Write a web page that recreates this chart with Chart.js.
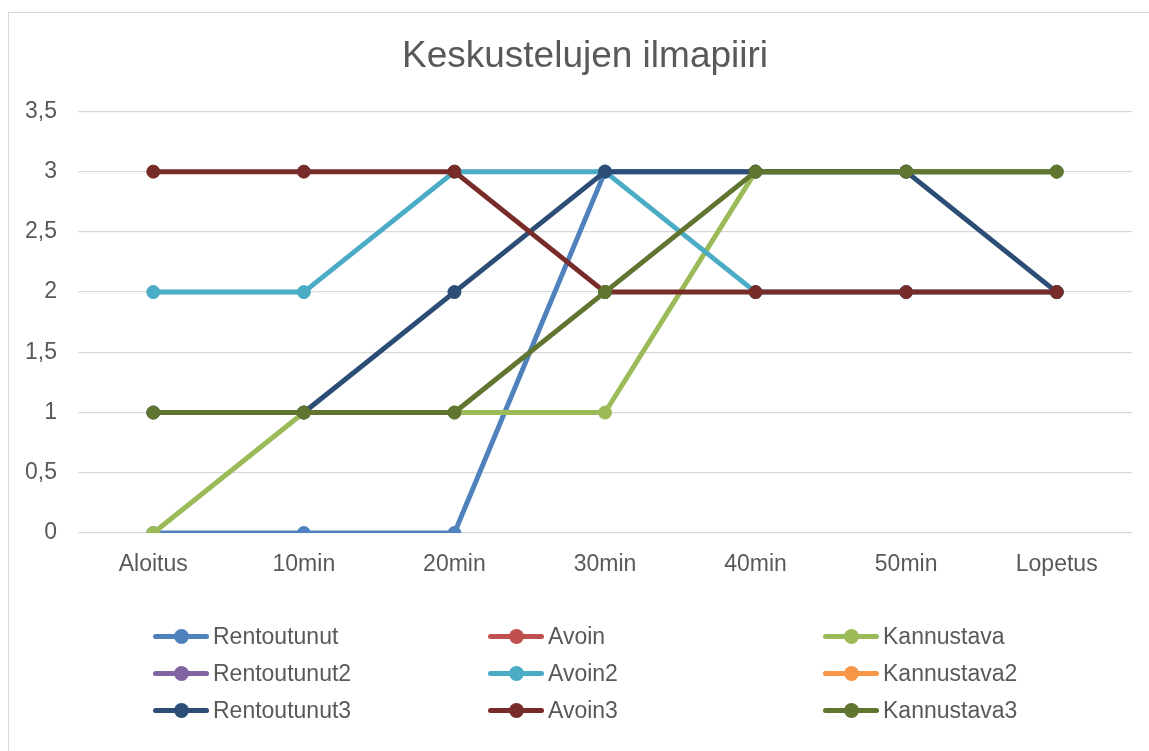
<!DOCTYPE html>
<html>
<head>
<meta charset="utf-8">
<script src="https://cdn.jsdelivr.net/npm/chart.js"></script>
<style>
  body { margin: 0; background: #fff; }
  #wrap { position: relative; width: 1149px; height: 751px; overflow: hidden; }
  #frame { position: absolute; left: 8px; top: 12px; width: 1170px; height: 770px; border: 1.5px solid #d9d9d9; box-sizing: border-box; }
  #miGrafico { position: absolute; left: 0; top: 0; }
  .item { position: absolute; height: 28px; display: flex; align-items: center; font: 23px "Liberation Sans", Arial, sans-serif; color: #595959; white-space: nowrap; }
  .mark { position: relative; width: 56px; height: 5px; border-radius: 3px; margin-right: 4px; }
  .mark::after { content: ''; position: absolute; left: 21px; top: -5px; width: 15px; height: 15px; border-radius: 50%; background: inherit; }
</style>
</head>
<body>
<div id="wrap">
  <div id="frame"></div>
  <canvas id="miGrafico" width="1149" height="751"></canvas>
  <div id="legend"></div>
</div>
<script>
const labels = ['Aloitus', '10min', '20min', '30min', '40min', '50min', 'Lopetus'];

const rentoutunut = [0, 0, 0, 3, 3, 3, 3];
const avoin = [];
const kannustava = [0, 1, 1, 1, 3, 3, 3];
const rentoutunut2 = [];
const avoin2 = [2, 2, 3, 3, 2, 2, 2];
const kannustava2 = [];
const rentoutunut3 = [1, 1, 2, 3, 3, 3, 2];
const avoin3 = [3, 3, 3, 2, 2, 2, 2];
const kannustava3 = [1, 1, 1, 2, 3, 3, 3];

const series = [
  { label: 'Rentoutunut', data: rentoutunut, color: '#4F81BD' },
  { label: 'Avoin', data: avoin, color: '#C0504D' },
  { label: 'Kannustava', data: kannustava, color: '#9BBB59' },
  { label: 'Rentoutunut2', data: rentoutunut2, color: '#8064A2' },
  { label: 'Avoin2', data: avoin2, color: '#4BACC6' },
  { label: 'Kannustava2', data: kannustava2, color: '#F79646' },
  { label: 'Rentoutunut3', data: rentoutunut3, color: '#2C4D75' },
  { label: 'Avoin3', data: avoin3, color: '#772C2A' },
  { label: 'Kannustava3', data: kannustava3, color: '#5F7530' },
];

const font = '"Liberation Sans", Arial, sans-serif';

const data = {
  labels,
  datasets: series.map((s, i) => ({
    label: s.label,
    data: s.data,
    borderColor: s.color,
    backgroundColor: s.color,
    pointBackgroundColor: s.color,
    pointBorderColor: s.color,
    borderWidth: 5,
    pointRadius: 6.5,
    pointBorderWidth: 1,
    borderJoinStyle: 'round',
    borderCapStyle: 'round',
    order: series.length - i,
  })),
};

// the title is centred on the frame, not on the plot
const shiftTitle = {
  id: 'shiftTitle',
  afterLayout(chart) {
    chart.titleBlock.left += 38;
  },
};

const options = {
  responsive: false,
  animation: false,
  layout: { padding: { left: 0, right: 17, top: 0, bottom: 0 } },
  plugins: {
    legend: { display: false },
    tooltip: { enabled: false },
    title: {
      display: true,
      text: 'Keskustelujen ilmapiiri',
      color: '#595959',
      font: { family: font, size: 37, weight: 'normal' },
      padding: { top: 35, bottom: 32 },
    },
  },
  scales: {
    x: {
      offset: true,
      grid: { display: false, drawTicks: false },
      border: { display: false },
      ticks: { color: '#595959', font: { family: font, size: 23 }, padding: 18 },
      afterFit: (scale) => { scale.height = 751 - 533; },
    },
    y: {
      min: 0,
      max: 3.5,
      ticks: {
        stepSize: 0.5,
        color: '#595959',
        font: { family: font, size: 23 },
        padding: 21,
        callback: (v) => String(v).replace('.', ','),
      },
      grid: { color: '#d9d9d9', lineWidth: 1.3, drawTicks: false },
      border: { display: false },
      afterFit: (scale) => { scale.width = 78; },
    },
  },
};

const ctx = document.getElementById('miGrafico');
const myChart = new Chart(ctx, { type: 'line', data, options, plugins: [shiftTitle] });

// legend in three columns, like the original
const legend = document.getElementById('legend');
series.forEach((s, i) => {
  const item = document.createElement('div');
  item.className = 'item';
  item.style.left = (153 + (i % 3) * 335) + 'px';
  item.style.top = (636 + Math.floor(i / 3) * 37 - 14) + 'px';
  const mark = document.createElement('span');
  mark.className = 'mark';
  mark.style.background = s.color;
  item.appendChild(mark);
  item.appendChild(document.createTextNode(s.label));
  legend.appendChild(item);
});
</script>
</body>
</html>
